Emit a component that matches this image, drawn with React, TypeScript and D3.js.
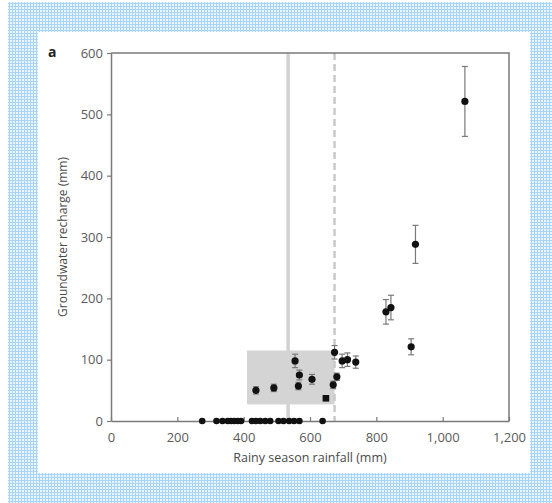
import React, { useEffect, useRef } from "react";
import * as d3 from "d3";

// zero-recharge years (rainfall, mm)
const zeroRain = [275, 318, 336, 352, 362, 372, 382, 392, 425, 437, 450, 465, 480, 505, 520, 537, 552, 568, 638];

// years with recharge
const rain = [437, 491, 555, 565, 568, 606, 670, 674, 681, 697, 713, 738, 829, 844, 905, 918, 1067];
const recharge = [50, 54, 98, 57, 75, 68, 59, 112, 72, 98, 100, 96, 178, 185, 121, 288, 521];
const errs = [6, 6, 11, 6, 8, 8, 6, 11, 6, 11, 11, 10, 20, 20, 13, 31, 57];

// odd one out, drawn as a square
const squarePt = [648, 37];

const thresholdSolid = 534;
const thresholdDashed = 674;
const boxRain = [410, 674];
const boxRecharge = [27, 115];

const xTicks = [0, 200, 400, 600, 800, 1000, 1200];
const yTicks = [0, 100, 200, 300, 400, 500, 600];

function App() {
  const ref = useRef(null);

  useEffect(() => {
    const svg = d3.select(ref.current);
    svg.selectAll("*").remove();

    const x = d3.scaleLinear().domain([0, 1200]).range([111, 509]);
    const y = d3.scaleLinear().domain([0, 600]).range([421, 53]);
    const font = "'Open Sans', 'Noto Sans', sans-serif";
    const axisCol = "#7a7a7a";

    // checkered blue background
    const defs = svg.append("defs");
    const pat = defs
      .append("pattern")
      .attr("id", "chk")
      .attr("width", 3)
      .attr("height", 3)
      .attr("patternUnits", "userSpaceOnUse");
    pat.append("rect").attr("width", 3).attr("height", 3).attr("fill", "#eaf5fe");
    pat.append("rect").attr("width", 1).attr("height", 3).attr("fill", "#a8d5f7");
    pat.append("rect").attr("width", 3).attr("height", 1).attr("fill", "#a8d5f7");

    svg.append("rect").attr("x", 8).attr("y", 2).attr("width", 544).attr("height", 501).attr("fill", "url(#chk)");
    svg.append("rect").attr("x", 38).attr("y", 32).attr("width", 492).attr("height", 441).attr("fill", "#fff");

    // threshold lines
    svg
      .append("line")
      .attr("x1", x(thresholdSolid))
      .attr("x2", x(thresholdSolid))
      .attr("y1", y(600))
      .attr("y2", y(0))
      .attr("stroke", "#d2d2d2")
      .attr("stroke-width", 3.5);

    svg
      .append("rect")
      .attr("x", x(boxRain[0]))
      .attr("y", y(boxRecharge[1]))
      .attr("width", x(boxRain[1]) - x(boxRain[0]))
      .attr("height", y(boxRecharge[0]) - y(boxRecharge[1]))
      .attr("fill", "#d4d4d4");

    svg
      .append("line")
      .attr("x1", x(thresholdDashed))
      .attr("x2", x(thresholdDashed))
      .attr("y1", y(600))
      .attr("y2", y(0))
      .attr("stroke", "#c9c9c9")
      .attr("stroke-width", 2.5)
      .attr("stroke-dasharray", "7,4");

    // axes
    const xAxis = svg
      .append("g")
      .attr("transform", `translate(0,${y(0)})`)
      .call(
        d3
          .axisBottom(x)
          .tickValues(xTicks)
          .tickSizeInner(-4)
          .tickSizeOuter(0)
          .tickPadding(12)
          .tickFormat(d3.format(","))
      );
    const yAxis = svg
      .append("g")
      .attr("transform", `translate(${x(0)},0)`)
      .call(d3.axisLeft(y).tickValues(yTicks).tickSize(4).tickSizeOuter(0).tickPadding(4));

    [xAxis, yAxis].forEach((g) => {
      g.select(".domain").attr("stroke", axisCol).attr("stroke-width", 1.5);
      g.selectAll(".tick line").attr("stroke", axisCol).attr("stroke-width", 1.2);
      g.selectAll(".tick text").attr("fill", "#5a5a5a").attr("font-size", 13).attr("font-family", font);
    });

    // top and right frame
    svg
      .append("path")
      .attr("d", `M${x(0)},${y(600)}H${x(1200)}V${y(0)}`)
      .attr("fill", "none")
      .attr("stroke", axisCol)
      .attr("stroke-width", 1.5);

    // error bars
    const eb = svg.append("g").attr("stroke", "#7a7a7a").attr("stroke-width", 1.2);
    rain.forEach((r, i) => {
      const cx = x(r);
      const lo = y(recharge[i] - errs[i]);
      const hi = y(recharge[i] + errs[i]);
      eb.append("line").attr("x1", cx).attr("x2", cx).attr("y1", lo).attr("y2", hi);
      eb.append("line").attr("x1", cx - 3).attr("x2", cx + 3).attr("y1", lo).attr("y2", lo);
      eb.append("line").attr("x1", cx - 3).attr("x2", cx + 3).attr("y1", hi).attr("y2", hi);
    });

    // points
    svg
      .selectAll(".pt")
      .data(rain)
      .enter()
      .append("circle")
      .attr("cx", (d) => x(d))
      .attr("cy", (d, i) => y(recharge[i]))
      .attr("r", 3.6)
      .attr("fill", "#111");

    svg
      .selectAll(".zero")
      .data(zeroRain)
      .enter()
      .append("circle")
      .attr("cx", (d) => x(d))
      .attr("cy", y(0))
      .attr("r", 3.3)
      .attr("fill", "#111");

    svg
      .append("rect")
      .attr("x", x(squarePt[0]) - 3.3)
      .attr("y", y(squarePt[1]) - 3.3)
      .attr("width", 6.6)
      .attr("height", 6.6)
      .attr("fill", "#111");

    // titles
    svg
      .append("text")
      .attr("x", 310)
      .attr("y", 462)
      .attr("text-anchor", "middle")
      .attr("font-size", 12.5)
      .attr("font-family", font)
      .attr("fill", "#4a4a4a")
      .text("Rainy season rainfall (mm)");

    svg
      .append("text")
      .attr("transform", "translate(67,237) rotate(-90)")
      .attr("text-anchor", "middle")
      .attr("font-size", 12)
      .attr("font-family", font)
      .attr("fill", "#4a4a4a")
      .text("Groundwater recharge (mm)");

    svg
      .append("text")
      .attr("x", 48)
      .attr("y", 57)
      .attr("font-size", 14)
      .attr("font-weight", "bold")
      .attr("font-family", font)
      .attr("fill", "#222")
      .text("a");
  }, []);

  return (
    <svg
      ref={ref}
      width="552"
      height="503"
      style={{ position: "absolute", left: 0, top: 0, display: "block" }}
    ></svg>
  );
}

export default App;
